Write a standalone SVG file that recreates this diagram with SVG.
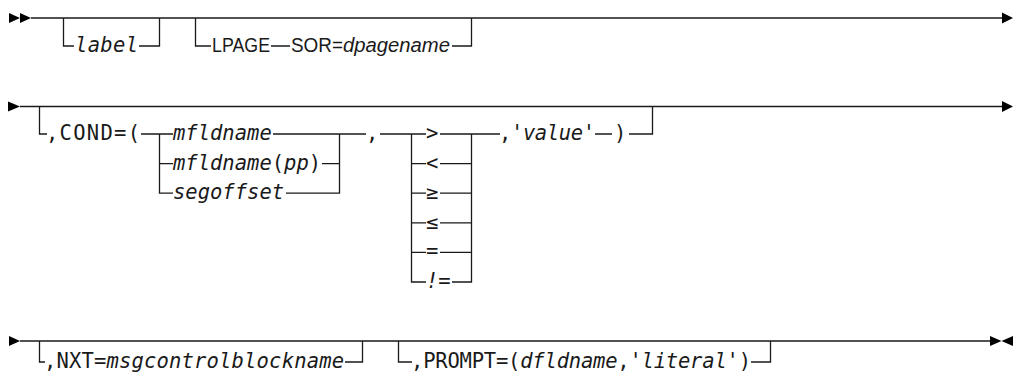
<svg xmlns="http://www.w3.org/2000/svg" width="1015" height="381" viewBox="0 0 1015 381">
<style>
.ln{fill:none;stroke:#1a1a1a;stroke-width:1.3}
.ah{fill:#000}
.m{font-family:"DejaVu Sans Mono","Liberation Mono",monospace;font-size:20.5px;fill:#1a1a1a}
.s{font-family:"Liberation Sans","DejaVu Sans",sans-serif;font-size:20.5px;fill:#1a1a1a}
.i{font-style:italic}
</style>
<rect width="1015" height="381" fill="#fff"/>
<g id="connectors">
<path class="ln" d="M31,18 H1002 M63.5,18 V46 H74 M139,46 H159.5 V18 M195.5,18 V46 H211 M271,46 H290 M452,46 H471.5 V18"/>
<path class="ln" d="M20,106.5 H1002 M39.5,106.5 V134 H47 M141,134 H173 M159.5,134 V193.2 H173 M159.5,163.6 H173 M273,134 H339.5 M322,163.6 H339.5 M286,193.2 H339.5 V134 M339.5,134 H366 M380,134 H426 M411.5,134 V282 H426 M411.5,163.6 H426 M411.5,193.2 H426 M411.5,222.8 H426 M411.5,252.4 H426 M440,134 H500 M440,163.6 H471.5 M440,193.2 H471.5 M440,222.8 H471.5 M440,252.4 H471.5 M452,282 H471.5 V134 M595,134 H612 M629,134 H652.5 V106.5"/>
<path class="ln" d="M20,341 H990 M39.5,341 V362 H45 M345,362 H362.5 V341 M398.5,341 V362 H412 M751,362 H770.5 V341"/>
<polygon class="ah" points="9,13 9,23 20,18"/>
<polygon class="ah" points="20,13 20,23 31,18"/>
<polygon class="ah" points="1002,12.5 1002,23.5 1013,18"/>
<polygon class="ah" points="8,101.5 8,111.5 20,106.5"/>
<polygon class="ah" points="1002,101 1002,112 1013,106.5"/>
<polygon class="ah" points="9,336 9,346 20,341"/>
<polygon class="ah" points="990,336 990,346 1001.5,341"/>
<polygon class="ah" points="1013,336 1013,346 1001.5,341"/>
</g>
<g id="n-label"><text class="m i" x="75" y="52" textLength="63">label</text></g>
<g id="n-lpage"><text class="s" x="212" y="52" textLength="58" lengthAdjust="spacingAndGlyphs">LPAGE</text></g>
<g id="n-sor"><text class="s" x="291" y="52" textLength="52" lengthAdjust="spacingAndGlyphs">SOR=</text><text class="s i" x="343" y="52" textLength="107" lengthAdjust="spacingAndGlyphs">dpagename</text></g>
<g id="n-cond"><text class="m" x="46" y="140" textLength="94">,COND=(</text></g>
<g id="n-mfld"><text class="m i" x="173" y="140">mfldname</text></g>
<g id="n-mfldpp"><text class="m" x="173" y="169.6"><tspan class="i">mfldname</tspan>(<tspan class="i">pp</tspan>)</text></g>
<g id="n-seg"><text class="m i" x="173" y="199.2">segoffset</text></g>
<g id="n-comma"><text class="m" x="366" y="140">,</text></g>
<g id="n-gt"><text class="m" x="426" y="140">&gt;</text></g>
<g id="n-lt"><text class="m" x="426" y="169.6">&lt;</text></g>
<g id="n-ge"><text class="m" x="426" y="199.2">≥</text></g>
<g id="n-le"><text class="m" x="426" y="228.8">≤</text></g>
<g id="n-eq"><text class="m" x="426" y="258.4">=</text></g>
<g id="n-ne"><text class="m i" x="426" y="288">!=</text></g>
<g id="n-value"><text class="m" x="499" y="140" textLength="96">,'<tspan class="i">value</tspan>'</text></g>
<g id="n-rparen"><text class="m" x="614" y="140">)</text></g>
<g id="n-nxt"><text class="m" x="44" y="368" textLength="300">,NXT=<tspan class="i">msgcontrolblockname</tspan></text></g>
<g id="n-prompt"><text class="m" x="411" y="368" textLength="340">,PROMPT=(<tspan class="i">dfldname</tspan>,'<tspan class="i">literal</tspan>')</text></g>
</svg>
